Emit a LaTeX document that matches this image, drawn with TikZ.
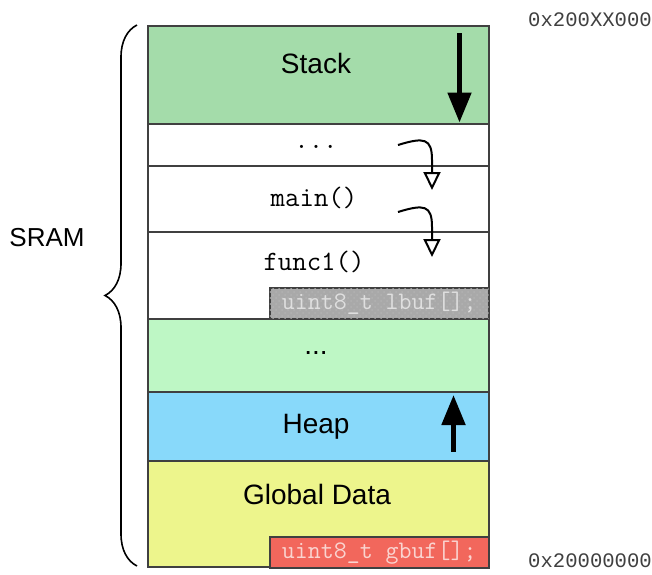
\documentclass[tikz,border=0pt]{standalone}
\usepackage{fontspec}
\setmainfont{Liberation Sans}
\newfontfamily\addrfont{Liberation Mono}
\usepackage{tikz}
\usetikzlibrary{arrows.meta,positioning,calc,patterns,decorations.pathreplacing}
\definecolor{stackgreen}{HTML}{A4DCAA}
\definecolor{freegreen}{HTML}{BEF7C5}
\definecolor{heapblue}{HTML}{88D9FA}
\definecolor{globalyel}{HTML}{EDF58C}
\definecolor{bufred}{HTML}{F2675C}
\definecolor{bufredtext}{HTML}{FAD4D0}
\definecolor{bufgray}{HTML}{A9A9A9}
\definecolor{edge}{HTML}{404040}
\tikzset{
  mrow/.style={draw=edge,line width=0.75pt,anchor=north west,minimum width=170.5pt,inner sep=0pt},
  mbuf/.style={draw=edge,line width=0.75pt,anchor=north west,minimum width=109.5pt,minimum height=15.5pt,inner sep=0pt,font=\fontsize{12.6}{14}\ttfamily},
  mlabel/.style={font=\fontsize{14}{16}\selectfont},
  mcode/.style={font=\fontsize{14}{16}\ttfamily},
  maddr/.style={font=\fontsize{10.3}{12}\addrfont,text=edge},
  mgrow/.style={-{Triangle[length=15pt,width=11.5pt]},line width=2.5pt},
  mcall/.style={-{Triangle[open,length=9pt,width=8.5pt]},line width=1pt}
}
\begin{document}
\begin{tikzpicture}[x=0.5pt,y=-0.5pt]
  \useasboundingbox (0,0) rectangle (652,574);
  % rows top to bottom, 1 unit = 1 px of the layout
  \node[mrow,fill=stackgreen,minimum height=49pt] (stack) at (147,25) {};
  \node[mrow,fill=white,minimum height=21pt] (dots) at (147,123) {};
  \node[mrow,fill=white,minimum height=33pt] (main) at (147,165) {};
  \node[mrow,fill=white,minimum height=43.5pt] (func) at (147,231) {};
  \node[mrow,fill=freegreen,minimum height=36.5pt] (free) at (147,318) {};
  \node[mrow,fill=heapblue,minimum height=34.5pt] (heap) at (147,391) {};
  \node[mrow,fill=globalyel,minimum height=53pt] (global) at (147,460) {};
  \node[mbuf,fill=bufgray,postaction={pattern=crosshatch dots,pattern color=gray!60},text=gray!25] (lbuf) at (269,287) {uint8\_t lbuf[];};
  \node[mbuf,fill=bufred,text=bufredtext] (gbuf) at (269,536) {uint8\_t gbuf[];};

  \node[mlabel] (stacklbl) at (316,63) {Stack};
  \node[mcode] (dotslbl) at (316,147) {...};
  \node[mcode] (mainlbl) at (314,198) {main()};
  \node[mcode] (funclbl) at (314,262) {func1()};
  \node[mlabel] (freelbl) at (316,353) {...};
  \node[mlabel] (heaplbl) at (316,427) {Heap};
  \node[mlabel] (globallbl) at (317,494) {Global Data};

  \node[maddr] (topaddr) at (590,20) {0x200XX000};
  \node[maddr] (botaddr) at (590,561) {0x20000000};
  \node[font=\fontsize{13}{15}\selectfont] (sram) at (47,238) {SRAM};

  \coordinate (stacktail) at ($(stack.north east)+(-30,8)$);
  \coordinate (stacktip) at ($(stack.south east)+(-30,-2)$);
  \draw[mgrow] (stacktail) -- (stacktip);
  \coordinate (heaptail) at ($(heap.south east)+(-36,-10)$);
  \coordinate (heaptip) at ($(heap.north east)+(-36,4)$);
  \draw[mgrow] (heaptail) -- (heaptip);

  \coordinate (call1) at (398,145);
  \coordinate (ret1) at (432,190);
  \draw[mcall] (call1) .. controls (424,137) and (432,138) .. (432,160) -- (ret1);
  \coordinate (call2) at (398,212);
  \coordinate (ret2) at (432,257);
  \draw[mcall] (call2) .. controls (424,204) and (432,205) .. (432,227) -- (ret2);

  \coordinate (bracebot) at (137,566);
  \coordinate (bracetop) at (137,25);
  \draw[line width=0.8pt,decorate,decoration={brace,amplitude=16pt}] (bracebot) -- (bracetop);
\end{tikzpicture}
\end{document}
